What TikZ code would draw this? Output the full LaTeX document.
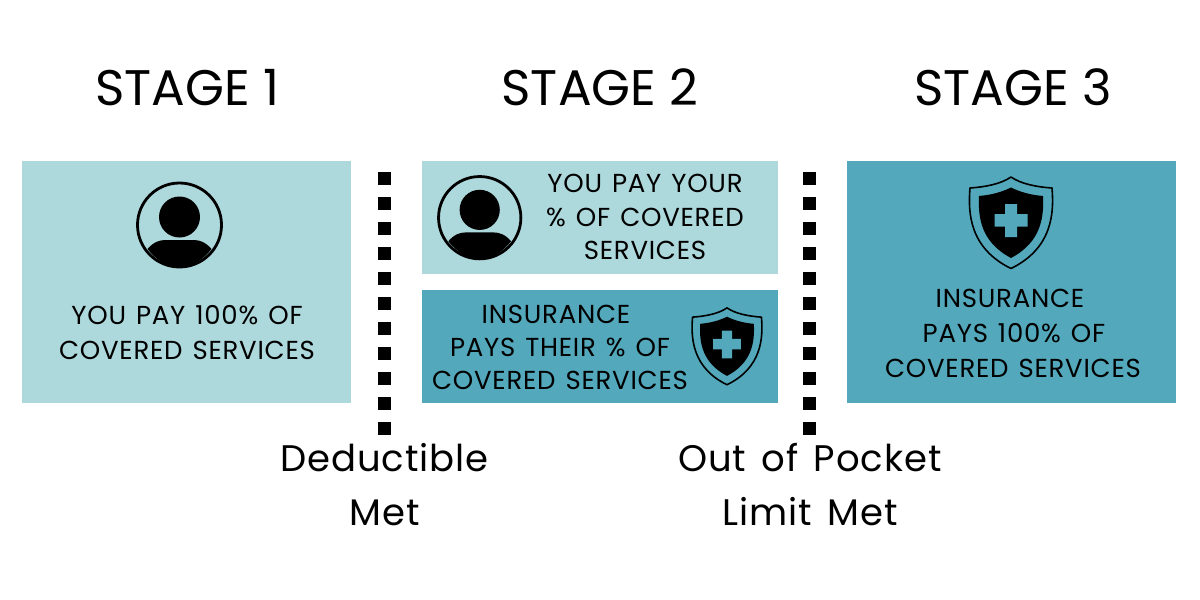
\documentclass[tikz,border=0pt]{standalone}
\usepackage{fontspec}
\setmainfont{Poppins}
\newfontfamily\bodyfont[LetterSpace=2.9,WordSpace=1.3]{Poppins}
\newfontfamily\markfont[LetterSpace=2.7,WordSpace=1.4]{Poppins}
\definecolor{lightteal}{HTML}{ADD8DC}
\definecolor{darkteal}{HTML}{53A8BC}
\tikzset{
  x=1pt,y=-1pt,
  stagehead/.style={anchor=base,inner sep=0,font=\fontsize{50}{50}\selectfont},
  bodyline/.style={anchor=base,inner sep=0,font=\bodyfont\fontsize{26}{26}\selectfont},
  marker/.style={anchor=base,inner sep=0,font=\markfont\fontsize{37}{37}\selectfont},
  lightbox/.style={fill=lightteal,draw=none},
  darkbox/.style={fill=darkteal,draw=none},
  person/.pic={
    \draw[black,line width=2.8pt] (0,0) circle[radius=42];
    \fill[black] (0,-8) circle[radius=20.5];
    \fill[black] (-32,24) .. controls (-26,17) and (-20,15) .. (-14,15) -- (14,15)
       .. controls (20,15) and (26,17) .. (32,24)
       .. controls (22,37) and (10,42) .. (0,42)
       .. controls (-10,42) and (-22,37) .. (-32,24) -- cycle;
  },
  shieldicon/.pic={
    \draw[black,line width=1.6pt,line join=round] (0,-43) .. controls (-10,-36) and (-26,-33) .. (-41,-32)
      .. controls (-43,-8) and (-42,28) .. (0,48.5)
      .. controls (42,28) and (43,-8) .. (41,-32)
      .. controls (26,-33) and (10,-36) .. (0,-43) -- cycle;
    \fill[black,line join=round] (0,-32.5) .. controls (-9,-28) and (-20,-25) .. (-32,-24)
      .. controls (-33,-2) and (-30,22) .. (0,38)
      .. controls (30,22) and (33,-2) .. (32,-24)
      .. controls (20,-25) and (9,-28) .. (0,-32.5) -- cycle;
    \fill[darkteal] (-6,-16) -- (6,-16) -- (6,-6) -- (16.5,-6) -- (16.5,6.5) -- (6,6.5) -- (6,17) -- (-6,17) -- (-6,6.5) -- (-16.5,6.5) -- (-16.5,-6) -- (-6,-6) -- cycle;
  }
}
\begin{document}
\begin{tikzpicture}
\useasboundingbox (0,0) rectangle (1200,600);
\fill[white] (0,0) rectangle (1200,600);
\fill[lightbox] (22,161) rectangle (351,403);
\fill[lightbox] (422,161) rectangle (778,274);
\fill[darkbox] (422,290) rectangle (778,403);
\fill[darkbox] (847,161) rectangle (1176,403);
\foreach \yy in {172,197,...,422} {
  \fill[black] (378,\yy) rectangle +(13,13);
  \fill[black] (803,\yy) rectangle +(13,13);
}
\node[stagehead] (s1) at (187,105) {STAGE 1};
\node[stagehead] (s2) at (600,105) {STAGE 2};
\node[stagehead] (s3) at (1013,105) {STAGE 3};
\pic at (179.5,225) {person};
\pic[scale=0.98] at (479.7,217.7) {person};
\pic at (1011,220) {shieldicon};
\pic[scale=0.84] at (727,344) {shieldicon};
\node[bodyline] (a1) at (187,324) {YOU PAY 100\% OF};
\node[bodyline] (a2) at (187,359) {COVERED SERVICES};
\node[bodyline] (b1) at (645,192) {YOU PAY YOUR};
\node[bodyline] (b2) at (645,226) {\% OF COVERED};
\node[bodyline] (b3) at (645,259) {SERVICES};
\node[bodyline] (c1) at (556,323) {INSURANCE};
\node[bodyline] (c2) at (560,356) {PAYS THEIR \% OF};
\node[bodyline] (c3) at (560,389) {COVERED SERVICES};
\node[bodyline] (d1) at (1010,307) {INSURANCE};
\node[bodyline] (d2) at (1014,342) {PAYS 100\% OF};
\node[bodyline] (d3) at (1013,377) {COVERED SERVICES};
\node[marker] (m1) at (384.5,471) {Deductible};
\node[marker] (m2) at (384.5,525) {Met};
\node[marker] (m3) at (810,471) {Out of Pocket};
\node[marker] (m4) at (810,525) {Limit Met};
\end{tikzpicture}
\end{document}
